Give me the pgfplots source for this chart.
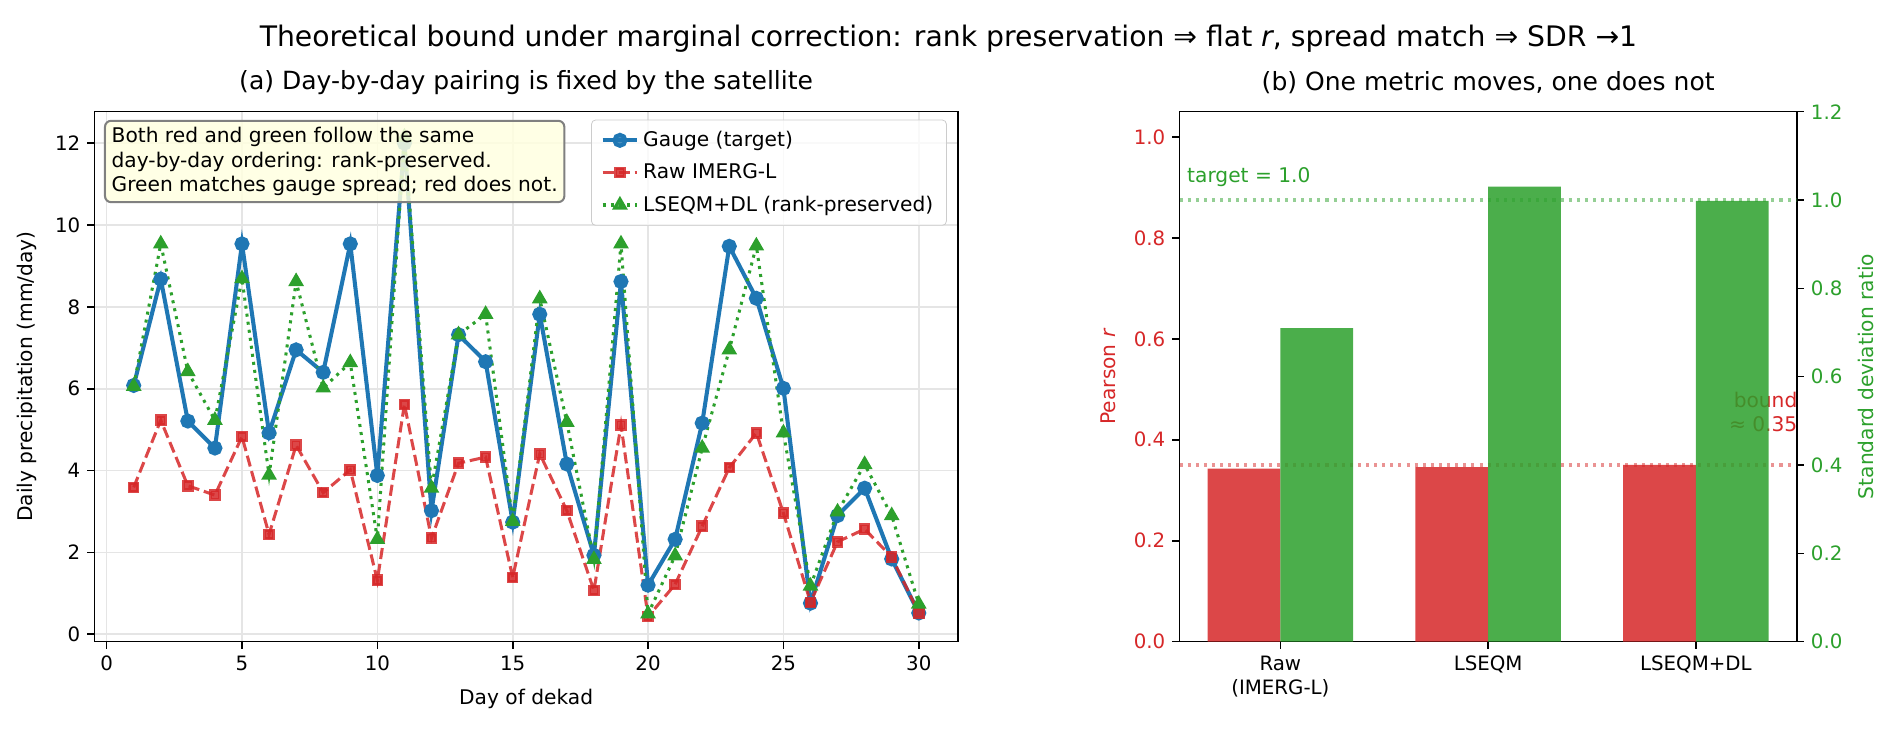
\documentclass[border=0pt]{standalone}
\usepackage{fontspec}
\setmainfont{DejaVu Sans}
\usepackage{pgfplots}
\usepackage{pgfplotstable}
\pgfplotsset{compat=1.18}

\definecolor{tabblue}{HTML}{1F77B4}
\definecolor{tabred}{HTML}{D62728}
\definecolor{tabgreen}{HTML}{2CA02C}
\definecolor{lightyellow}{HTML}{FFFFE0}

% Daily precipitation (mm/day) over one 30-day dekad window
\pgfplotstableread{
day gauge raw dl
1  6.08 3.59 6.06
2  8.68 5.23 9.54
3  5.21 3.63 6.42
4  4.55 3.40 5.23
5  9.54 4.83 8.69
6  4.92 2.44 3.89
7  6.95 4.62 8.62
8  6.40 3.46 6.02
9  9.54 4.02 6.64
10 3.88 1.32 2.32
11 12.0 5.62 12.15
12 3.02 2.35 3.57
13 7.32 4.18 7.32
14 6.66 4.33 7.82
15 2.74 1.39 2.76
16 7.82 4.41 8.20
17 4.16 3.02 5.18
18 1.93 1.07 1.83
19 8.62 5.11 9.54
20 1.20 0.43 0.50
21 2.32 1.22 1.92
22 5.16 2.64 4.55
23 9.48 4.07 6.95
24 8.21 4.92 9.49
25 6.01 2.96 4.92
26 0.76 0.78 1.18
27 2.90 2.26 2.99
28 3.57 2.57 4.15
29 1.84 1.89 2.90
30 0.52 0.52 0.74
}\dekad

% Skill metrics per product: Pearson r and standard deviation ratio
\pgfplotstableread{
idx r sdr
0 0.343 0.710
1 0.346 1.030
2 0.350 0.998
}\metrics

\newcommand{\ticksize}{\fontsize{9.8}{11.8}\selectfont}
\newcommand{\labsize}{\fontsize{10}{12}\selectfont}
\newcommand{\notesize}{\fontsize{10}{12}\selectfont}

\begin{document}
\begin{tikzpicture}
\path[use as bounding box] (0,0) rectangle (936bp,360bp);

% ---------- (a) daily series ----------
\begin{axis}[
  at={(46.6bp,43.4bp)}, anchor=south west, scale only axis,
  width=426.1bp, height=261.5bp,
  xmin=-0.45, xmax=31.45, ymin=-0.18, ymax=12.77,
  xtick={0,5,10,15,20,25,30}, ytick={0,2,4,6,8,10,12},
  tick align=outside, tick pos=left, major tick length=3.5bp,
  tick style={black, line width=0.8bp},
  axis line style={line width=0.8bp},
  grid=major, grid style={black!10, line width=0.8bp},
  ticklabel style={font=\ticksize},
  /pgf/number format/assume math mode=true,
  legend cell align=left,
  legend style={at={(0.987,0.985)}, anchor=north east, draw=black!20,
    rounded corners=2bp, fill=white, fill opacity=0.8, text opacity=1,
    font=\notesize, inner xsep=4.5bp, inner ysep=3.5bp, row sep=3bp},
]
\addplot[tabblue, line width=2bp, mark=*, mark size=2.7bp, mark options={solid}]
  table[x=day, y=gauge] {\dekad};
\addlegendentry{Gauge (target)}
\addplot[tabred, opacity=0.85, line width=1.5bp, dash pattern=on 5.5bp off 2.4bp,
  mark=square*, mark size=2.1bp, mark options={solid}]
  table[x=day, y=raw] {\dekad};
\addlegendentry{Raw IMERG-L}
\addplot[tabgreen, line width=1.5bp, dash pattern=on 1.5bp off 2.5bp,
  mark=triangle*, mark size=3bp, mark options={solid}]
  table[x=day, y=dl] {\dekad};
\addlegendentry{LSEQM+DL (rank-preserved)}
\end{axis}

% note box, set over the series
\node[anchor=north west, draw=gray, line width=1bp,
  fill=lightyellow, fill opacity=0.85, text opacity=1, rounded corners=3bp,
  align=left, font=\notesize, inner sep=3.3bp]
  at (51.3bp,300.9bp)
  {Both red and green follow the same\\day-by-day ordering: rank-preserved.\\Green matches gauge spread; red does not.};

% ---------- (b) Pearson r (left scale) ----------
\begin{axis}[
  at={(582bp,43.4bp)}, anchor=south west, scale only axis,
  width=304.5bp, height=261.5bp,
  xmin=-0.485, xmax=2.485, ymin=0, ymax=1.05,
  xtick={0,1,2},
  xticklabels={{Raw\\(IMERG-L)}, LSEQM, LSEQM+DL},
  xticklabel style={align=center, font=\ticksize, black},
  ytick={0,0.2,0.4,0.6,0.8,1.0},
  yticklabel style={font=\ticksize, text=tabred,
    /pgf/number format/fixed, /pgf/number format/fixed zerofill,
    /pgf/number format/precision=1},
  /pgf/number format/assume math mode=true,
  tick align=outside, tick pos=left, major tick length=3.5bp,
  tick style={black, line width=0.8bp},
  axis line style={line width=0.8bp},
]
\addplot[ybar, bar width=0.35, bar shift=-0.175, fill=tabred, fill opacity=0.85, draw=none]
  table[x=idx, y=r] {\metrics};
\addplot[tabred, opacity=0.5, line width=1.5bp, dash pattern=on 1.5bp off 2.5bp]
  coordinates {(-0.485,0.35) (2.485,0.35)};
\node[text=tabred, anchor=south east, align=right, font=\notesize, inner sep=0pt]
  at (axis cs:2.49,0.415) {bound\\≈ 0.35};
\end{axis}

% ---------- (b) SD ratio (right scale) ----------
\begin{axis}[
  at={(582bp,43.4bp)}, anchor=south west, scale only axis,
  width=304.5bp, height=261.5bp,
  xmin=-0.485, xmax=2.485, ymin=0, ymax=1.2,
  axis x line=none, axis y line*=right,
  ytick={0,0.2,0.4,0.6,0.8,1.0,1.2},
  yticklabel style={font=\ticksize, text=tabgreen,
    /pgf/number format/fixed, /pgf/number format/fixed zerofill,
    /pgf/number format/precision=1},
  /pgf/number format/assume math mode=true,
  tick align=outside, major tick length=3.5bp,
  tick style={black, line width=0.8bp},
  axis line style={line width=0.8bp, -},
]
\addplot[ybar, bar width=0.35, bar shift=0.175, fill=tabgreen, fill opacity=0.85, draw=none]
  table[x=idx, y=sdr] {\metrics};
\addplot[tabgreen, opacity=0.5, line width=1.5bp, dash pattern=on 1.5bp off 2.5bp]
  coordinates {(-0.485,1) (2.485,1)};
\node[text=tabgreen, anchor=south west, font=\notesize, inner sep=0pt]
  at (axis cs:-0.45,1.03) {target = 1.0};
\end{axis}

% ---------- titles and axis labels ----------
\node[font=\fontsize{14}{16}\selectfont] at (468bp,341.1bp)
  {Theoretical bound under marginal correction: rank preservation ⇒ flat \textit{r}, spread match ⇒ SDR →1};
\node[font=\fontsize{12.4}{14.4}\selectfont] at (259.6bp,319.3bp) {(a) Day-by-day pairing is fixed by the satellite};
\node[font=\fontsize{12.4}{14.4}\selectfont] at (734.3bp,319.3bp) {(b) One metric moves, one does not};
\node[font=\labsize] at (259.6bp,15.3bp) {Day of dekad};
\node[font=\labsize, rotate=90] at (13.1bp,174.2bp) {Daily precipitation (mm/day)};
\node[font=\labsize, rotate=90, text=tabred] at (546.8bp,174.2bp) {Pearson \textit{r}};
\node[font=\labsize, rotate=90, text=tabgreen] at (920.5bp,174.2bp) {Standard deviation ratio};
\end{tikzpicture}
\end{document}
